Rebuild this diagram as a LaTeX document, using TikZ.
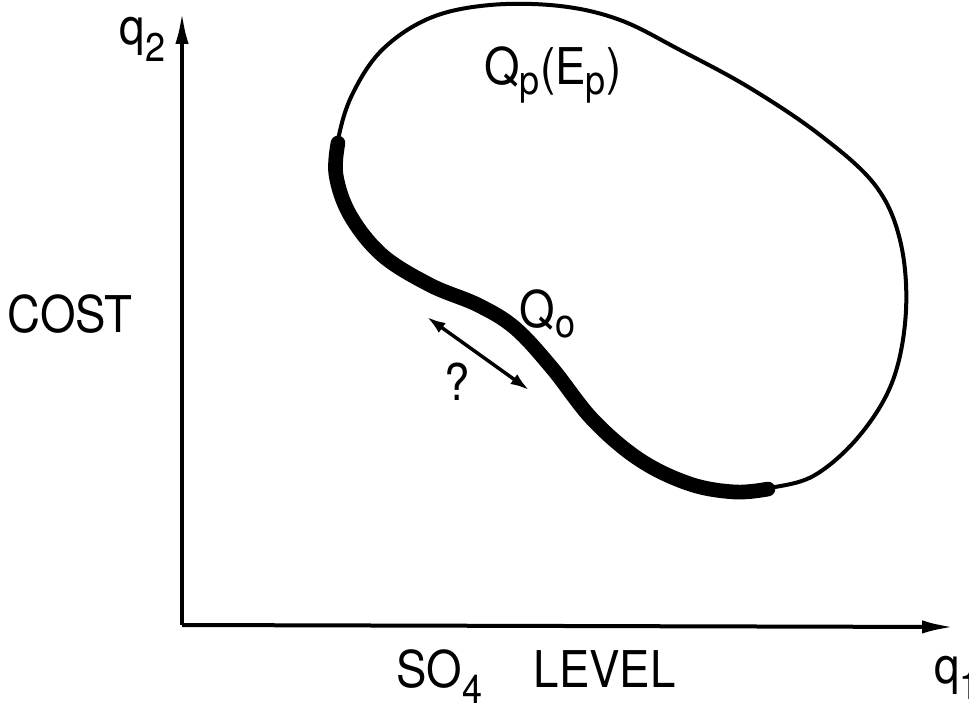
\documentclass[tikz,border=0pt]{standalone}
\usepackage{fontspec}
\setmainfont{TeX Gyre Heros}[FakeStretch=0.9]
\usetikzlibrary{arrows.meta}
\begin{document}
\begin{tikzpicture}[x=0.75pt,y=-0.75pt,
  lbl/.style={inner sep=0pt,font=\fontsize{38}{40}\selectfont},
  axis/.style={line width=3pt,-{Latex[length=24pt,width=10pt]}},
  thin/.style={line width=3pt},
  thick/.style={line width=11pt,line cap=round}]
\useasboundingbox (0,0) rectangle (969,710);
\coordinate (o) at (182,625);
\coordinate (ytop) at (182,12);
\coordinate (xend) at (954,627);
\draw[axis] (o) -- (ytop);
\draw[axis] (o) -- (xend);
% blob outline
\draw[thin] plot[smooth cycle,tension=0.6] coordinates {
 (338,140) (352,95) (382,50) (430,18) (490,5) (560,6) (620,20) (680,50)
 (750,88) (820,135) (875,185) (900,240) (906,310) (893,380) (860,435)
 (815,475) (770,488) (735,492) (690,484) (640,460) (593,420) (552,368)
 (515,328) (478,305) (430,285) (382,255) (350,215) (336,175)};
% thick arc
\draw[thick] plot[smooth,tension=0.6] coordinates {
 (338,143) (336,175) (350,215) (382,255) (430,285) (478,305) (515,328)
 (552,368) (593,420) (640,460) (690,484) (735,492) (768,489)};
% double arrow
\coordinate (da) at (427,317);
\coordinate (db) at (529,390);
\draw[line width=2.6pt,{Latex[length=14pt,width=9pt]}-{Latex[length=14pt,width=9pt]}] (da) -- (db);
\node[lbl,anchor=base east] (q2) at (166,45) {q$_{\mbox{\fontsize{30}{30}\selectfont 2}}$};
\node[lbl] (cost) at (70,314) {COST};
\node[lbl,anchor=base] (so4) at (536,687) {SO$_{\mbox{\fontsize{30}{30}\selectfont 4}}$\hspace{1em}LEVEL};
\node[lbl,anchor=base west] (q1) at (934,683) {q$_{\mbox{\fontsize{30}{30}\selectfont 1}}$};
\node[lbl] (qp) at (553,75) {Q$_{\mbox{\fontsize{30}{30}\selectfont p}}$(E$_{\mbox{\fontsize{30}{30}\selectfont p}}$)};
\node[lbl] (qo) at (548,314) {Q$_{\mbox{\fontsize{30}{30}\selectfont o}}$};
\node[lbl] (qm) at (457,382) {?};
\end{tikzpicture}
\end{document}
